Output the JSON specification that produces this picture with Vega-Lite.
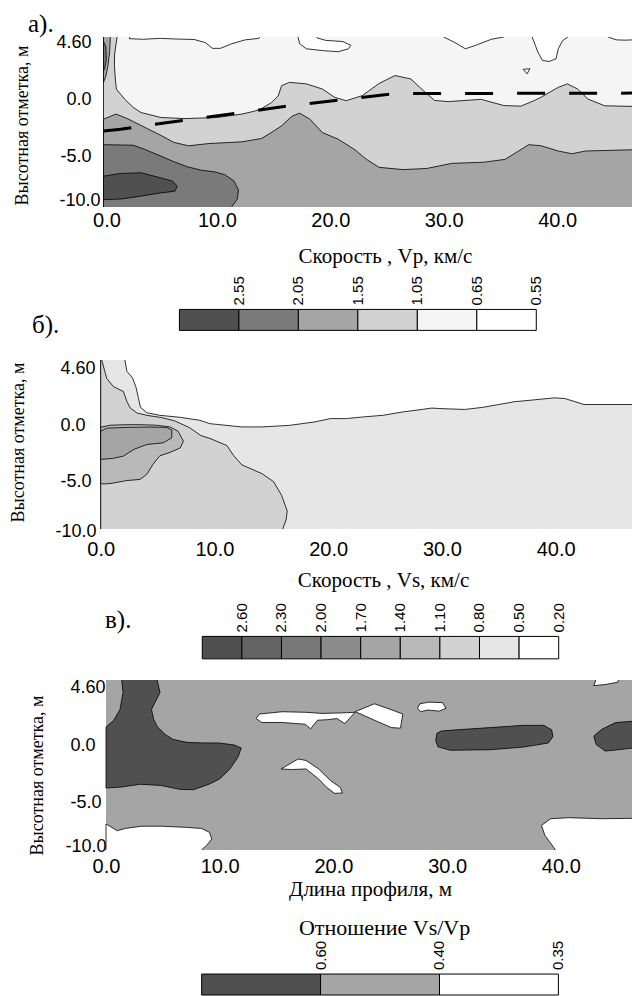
{
"$schema":"https://vega.github.io/schema/vega-lite/v6.json",
"background":"white",
"padding":{"left":8,"top":11,"right":0,"bottom":0},
"bounds":"flush",
"spacing":0,
"resolve":{"scale":{"fill":"independent"}},
"config":{
 "view":{"stroke":null},
 "axis":{"grid":false,"ticks":false,"domain":false,"labelFont":"Liberation Sans","labelColor":"#000","titleFont":"Liberation Serif","titleFontWeight":"normal","titleColor":"#000","labelFlush":false,"labelOverlap":false},
 "title":{"font":"Liberation Serif","fontWeight":"normal","fontSize":25,"color":"#000","anchor":"start","frame":"group","baseline":"alphabetic"}
},
"datasets":{
 "gridV":[{"x":10},{"x":20},{"x":30},{"x":40}],
 "gridH":[{"y":0},{"y":-5}],
 "edgeH":[{"y":5},{"y":-10}],
 "edgeL":[{"x":0}],
 "pa":[
  {"g":"a1","i":0,"x":0,"y":5.6},{"g":"a1","i":1,"x":1.2,"y":5.6},{"g":"a1","i":2,"x":1.2,"y":5.0},{"g":"a1","i":3,"x":0.98,"y":3.5},{"g":"a1","i":4,"x":0.96,"y":2.5},{"g":"a1","i":5,"x":1.05,"y":1.2},{"g":"a1","i":6,"x":1.14,"y":0.4},{"g":"a1","i":7,"x":1.85,"y":-0.47},{"g":"a1","i":8,"x":2.6,"y":-1.2},{"g":"a1","i":9,"x":3.3,"y":-1.66},{"g":"a1","i":10,"x":5.05,"y":-2.1},{"g":"a1","i":11,"x":7.2,"y":-2.2},{"g":"a1","i":12,"x":10.0,"y":-2.1},{"g":"a1","i":13,"x":12.2,"y":-1.8},{"g":"a1","i":14,"x":13.3,"y":-1.55},{"g":"a1","i":15,"x":13.95,"y":-1.3},{"g":"a1","i":16,"x":14.8,"y":-0.8},{"g":"a1","i":17,"x":15.4,"y":-0.2},{"g":"a1","i":18,"x":15.7,"y":0.7},{"g":"a1","i":19,"x":16.4,"y":1.0},{"g":"a1","i":20,"x":17.9,"y":0.86},{"g":"a1","i":21,"x":19.3,"y":0.41},{"g":"a1","i":22,"x":20.4,"y":-0.33},{"g":"a1","i":23,"x":21.4,"y":-0.62},{"g":"a1","i":24,"x":22.8,"y":-0.18},{"g":"a1","i":25,"x":24.3,"y":0.9},{"g":"a1","i":26,"x":25.7,"y":1.6},{"g":"a1","i":27,"x":27.1,"y":1.3},{"g":"a1","i":28,"x":28.2,"y":0.27},{"g":"a1","i":29,"x":29.2,"y":-0.6},{"g":"a1","i":30,"x":30.4,"y":-0.7},{"g":"a1","i":31,"x":33.3,"y":-0.5},{"g":"a1","i":32,"x":35.3,"y":-1.05},{"g":"a1","i":33,"x":36.8,"y":-1.1},{"g":"a1","i":34,"x":38.0,"y":-0.6},{"g":"a1","i":35,"x":38.6,"y":-0.3},{"g":"a1","i":36,"x":40.1,"y":0.56},{"g":"a1","i":37,"x":40.9,"y":0.86},{"g":"a1","i":38,"x":41.8,"y":0.42},{"g":"a1","i":39,"x":42.7,"y":-0.47},{"g":"a1","i":40,"x":44.2,"y":-1.07},{"g":"a1","i":41,"x":46.6,"y":-1.12},{"g":"a1","i":42,"x":51,"y":-1.12},{"g":"a1","i":43,"x":51,"y":-10.6},{"g":"a1","i":44,"x":0,"y":-10.6},
  {"g":"a2","i":0,"x":0,"y":-2.25},{"g":"a2","i":1,"x":1.1,"y":-1.8},{"g":"a2","i":2,"x":2.1,"y":-2.2},{"g":"a2","i":3,"x":3.6,"y":-2.95},{"g":"a2","i":4,"x":5.1,"y":-3.7},{"g":"a2","i":5,"x":6.2,"y":-4.3},{"g":"a2","i":6,"x":7.5,"y":-4.6},{"g":"a2","i":7,"x":9.3,"y":-4.4},{"g":"a2","i":8,"x":12.2,"y":-4.25},{"g":"a2","i":9,"x":13.95,"y":-3.95},{"g":"a2","i":10,"x":15.0,"y":-3.3},{"g":"a2","i":11,"x":15.7,"y":-2.84},{"g":"a2","i":12,"x":16.6,"y":-2.0},{"g":"a2","i":13,"x":17.3,"y":-1.72},{"g":"a2","i":14,"x":18.2,"y":-2.25},{"g":"a2","i":15,"x":19.3,"y":-3.43},{"g":"a2","i":16,"x":20.7,"y":-4.02},{"g":"a2","i":17,"x":22.1,"y":-4.9},{"g":"a2","i":18,"x":23.2,"y":-5.8},{"g":"a2","i":19,"x":24.3,"y":-6.5},{"g":"a2","i":20,"x":26.4,"y":-6.7},{"g":"a2","i":21,"x":28.5,"y":-6.6},{"g":"a2","i":22,"x":30.7,"y":-6.15},{"g":"a2","i":23,"x":33.5,"y":-6.05},{"g":"a2","i":24,"x":35.4,"y":-5.8},{"g":"a2","i":25,"x":36.6,"y":-5.06},{"g":"a2","i":26,"x":37.5,"y":-4.5},{"g":"a2","i":27,"x":38.6,"y":-4.6},{"g":"a2","i":28,"x":40.1,"y":-5.06},{"g":"a2","i":29,"x":41.3,"y":-5.3},{"g":"a2","i":30,"x":42.5,"y":-5.06},{"g":"a2","i":31,"x":46.6,"y":-4.95},{"g":"a2","i":32,"x":51,"y":-4.95},{"g":"a2","i":33,"x":51,"y":-10.6},{"g":"a2","i":34,"x":0,"y":-10.6},
  {"g":"a3","i":0,"x":0,"y":5.6},{"g":"a3","i":1,"x":0.6,"y":5.6},{"g":"a3","i":2,"x":0.6,"y":5.0},{"g":"a3","i":3,"x":0.55,"y":3.8},{"g":"a3","i":4,"x":0.4,"y":2.5},{"g":"a3","i":5,"x":0.2,"y":1.5},{"g":"a3","i":6,"x":0,"y":1.0},
  {"g":"a4","i":0,"x":0,"y":-4.5},{"g":"a4","i":1,"x":2.6,"y":-4.55},{"g":"a4","i":2,"x":3.6,"y":-4.9},{"g":"a4","i":3,"x":4.8,"y":-5.4},{"g":"a4","i":4,"x":6.2,"y":-6.0},{"g":"a4","i":5,"x":7.4,"y":-6.45},{"g":"a4","i":6,"x":8.6,"y":-6.75},{"g":"a4","i":7,"x":9.8,"y":-6.9},{"g":"a4","i":8,"x":10.7,"y":-7.15},{"g":"a4","i":9,"x":11.5,"y":-7.7},{"g":"a4","i":10,"x":11.9,"y":-8.5},{"g":"a4","i":11,"x":11.8,"y":-9.3},{"g":"a4","i":12,"x":11.3,"y":-10.0},{"g":"a4","i":13,"x":11.2,"y":-10.6},{"g":"a4","i":14,"x":0,"y":-10.6},
  {"g":"a5","i":0,"x":0,"y":4.6},{"g":"a5","i":1,"x":0.2,"y":4.2},{"g":"a5","i":2,"x":0.25,"y":3.0},{"g":"a5","i":3,"x":0.1,"y":2.2},{"g":"a5","i":4,"x":0,"y":2.0},
  {"g":"a6","i":0,"x":0,"y":-7.28},{"g":"a6","i":1,"x":1.5,"y":-7.04},{"g":"a6","i":2,"x":3.3,"y":-6.98},{"g":"a6","i":3,"x":5.05,"y":-7.43},{"g":"a6","i":4,"x":6.1,"y":-7.72},{"g":"a6","i":5,"x":6.5,"y":-8.17},{"g":"a6","i":6,"x":6.3,"y":-8.6},{"g":"a6","i":7,"x":5.05,"y":-8.76},{"g":"a6","i":8,"x":3.27,"y":-9.05},{"g":"a6","i":9,"x":1.5,"y":-9.3},{"g":"a6","i":10,"x":0,"y":-9.35},
  {"g":"a7","i":0,"x":2.3,"y":5.6},{"g":"a7","i":1,"x":2.3,"y":4.85},{"g":"a7","i":2,"x":3.5,"y":4.8},{"g":"a7","i":3,"x":5,"y":4.88},{"g":"a7","i":4,"x":6.5,"y":4.82},{"g":"a7","i":5,"x":8,"y":4.78},{"g":"a7","i":6,"x":9,"y":4.5},{"g":"a7","i":7,"x":9.6,"y":4.0},{"g":"a7","i":8,"x":10.3,"y":4.0},{"g":"a7","i":9,"x":11.3,"y":4.4},{"g":"a7","i":10,"x":12.5,"y":4.75},{"g":"a7","i":11,"x":13.7,"y":4.88},{"g":"a7","i":12,"x":14.2,"y":5.6},
  {"g":"a8","i":0,"x":17.15,"y":5.6},{"g":"a8","i":1,"x":17.15,"y":5.0},{"g":"a8","i":2,"x":17.3,"y":4.4},{"g":"a8","i":3,"x":17.9,"y":3.96},{"g":"a8","i":4,"x":19.3,"y":3.8},{"g":"a8","i":5,"x":20.7,"y":3.7},{"g":"a8","i":6,"x":21.6,"y":3.96},{"g":"a8","i":7,"x":21.8,"y":4.26},{"g":"a8","i":8,"x":21.1,"y":4.6},{"g":"a8","i":9,"x":19.6,"y":4.7},{"g":"a8","i":10,"x":18.9,"y":4.9},{"g":"a8","i":11,"x":18.75,"y":5.0},{"g":"a8","i":12,"x":18.75,"y":5.6},
  {"g":"a9","i":0,"x":30.0,"y":5.6},{"g":"a9","i":1,"x":30.0,"y":5.0},{"g":"a9","i":2,"x":31.0,"y":4.5},{"g":"a9","i":3,"x":31.9,"y":3.96},{"g":"a9","i":4,"x":32.8,"y":4.26},{"g":"a9","i":5,"x":34.2,"y":4.8},{"g":"a9","i":6,"x":35.3,"y":5.0},{"g":"a9","i":7,"x":35.3,"y":5.6},
  {"g":"a10","i":0,"x":37.8,"y":5.6},{"g":"a10","i":1,"x":37.8,"y":5.0},{"g":"a10","i":2,"x":38.3,"y":3.67},{"g":"a10","i":3,"x":38.7,"y":2.93},{"g":"a10","i":4,"x":39.3,"y":2.84},{"g":"a10","i":5,"x":39.9,"y":3.08},{"g":"a10","i":6,"x":40.1,"y":3.97},{"g":"a10","i":7,"x":40.5,"y":4.7},{"g":"a10","i":8,"x":40.95,"y":5.0},{"g":"a10","i":9,"x":40.95,"y":5.6},
  {"g":"a11","i":0,"x":44.5,"y":5.6},{"g":"a11","i":1,"x":44.5,"y":5.0},{"g":"a11","i":2,"x":45.2,"y":4.75},{"g":"a11","i":3,"x":46,"y":4.72},{"g":"a11","i":4,"x":46.7,"y":4.75},{"g":"a11","i":5,"x":51,"y":4.75},{"g":"a11","i":6,"x":51,"y":5.6},
  {"g":"a12","i":0,"x":37.0,"y":2.15},{"g":"a12","i":1,"x":37.6,"y":2.2},{"g":"a12","i":2,"x":37.35,"y":1.75}
 ],
 "pad":[{"x":0,"y":-3.3},{"x":1.5,"y":-3.14},{"x":4.5,"y":-2.7},{"x":7.5,"y":-2.3},{"x":12.2,"y":-1.66},{"x":16.4,"y":-1.07},{"x":21.1,"y":-0.53},{"x":25.7,"y":0.0},{"x":46.6,"y":0.05}],
 "pb":[
  {"g":"b1","i":0,"x":0,"y":5.6},{"g":"b1","i":1,"x":2.13,"y":5.6},{"g":"b1","i":2,"x":2.13,"y":5.0},{"g":"b1","i":3,"x":2.3,"y":4.0},{"g":"b1","i":4,"x":2.8,"y":3.4},{"g":"b1","i":5,"x":3.1,"y":2.6},{"g":"b1","i":6,"x":3.3,"y":1.7},{"g":"b1","i":7,"x":3.5,"y":0.8},{"g":"b1","i":8,"x":4.05,"y":0.32},{"g":"b1","i":9,"x":5.2,"y":0.09},{"g":"b1","i":10,"x":7.0,"y":-0.09},{"g":"b1","i":11,"x":8.7,"y":-0.35},{"g":"b1","i":12,"x":9.6,"y":-0.65},{"g":"b1","i":13,"x":12.4,"y":-0.94},{"g":"b1","i":14,"x":14.2,"y":-0.94},{"g":"b1","i":15,"x":16.6,"y":-0.8},{"g":"b1","i":16,"x":18.8,"y":-0.5},{"g":"b1","i":17,"x":20.2,"y":-0.2},{"g":"b1","i":18,"x":21.6,"y":-0.2},{"g":"b1","i":19,"x":23.0,"y":-0.06},{"g":"b1","i":20,"x":24.8,"y":0.09},{"g":"b1","i":21,"x":26.5,"y":0.38},{"g":"b1","i":22,"x":28.3,"y":0.62},{"g":"b1","i":23,"x":29.1,"y":0.73},{"g":"b1","i":24,"x":30.1,"y":0.68},{"g":"b1","i":25,"x":32.0,"y":0.61},{"g":"b1","i":26,"x":33.6,"y":0.8},{"g":"b1","i":27,"x":36.4,"y":1.3},{"g":"b1","i":28,"x":38.0,"y":1.45},{"g":"b1","i":29,"x":39.9,"y":1.64},{"g":"b1","i":30,"x":40.8,"y":1.58},{"g":"b1","i":31,"x":42.5,"y":1.05},{"g":"b1","i":32,"x":46.7,"y":1.05},{"g":"b1","i":33,"x":51,"y":1.05},{"g":"b1","i":34,"x":51,"y":-10.6},{"g":"b1","i":35,"x":0,"y":-10.6},
  {"g":"b2","i":0,"x":0,"y":5.6},{"g":"b2","i":1,"x":0.09,"y":5.6},{"g":"b2","i":2,"x":0.09,"y":5.0},{"g":"b2","i":3,"x":0.53,"y":3.38},{"g":"b2","i":4,"x":1.1,"y":2.65},{"g":"b2","i":5,"x":2.0,"y":2.2},{"g":"b2","i":6,"x":2.3,"y":1.32},{"g":"b2","i":7,"x":2.6,"y":0.74},{"g":"b2","i":8,"x":3.2,"y":0.29},{"g":"b2","i":9,"x":4.05,"y":0.09},{"g":"b2","i":10,"x":5.3,"y":-0.1},{"g":"b2","i":11,"x":6.5,"y":-0.4},{"g":"b2","i":12,"x":7.8,"y":-1.0},{"g":"b2","i":13,"x":8.8,"y":-1.7},{"g":"b2","i":14,"x":9.7,"y":-2.0},{"g":"b2","i":15,"x":11.1,"y":-2.6},{"g":"b2","i":16,"x":11.7,"y":-3.5},{"g":"b2","i":17,"x":12.4,"y":-4.3},{"g":"b2","i":18,"x":14.2,"y":-5.1},{"g":"b2","i":19,"x":15.2,"y":-5.8},{"g":"b2","i":20,"x":15.9,"y":-7.0},{"g":"b2","i":21,"x":16.4,"y":-8.4},{"g":"b2","i":22,"x":16.3,"y":-9.2},{"g":"b2","i":23,"x":16.0,"y":-10},{"g":"b2","i":24,"x":15.9,"y":-10.6},{"g":"b2","i":25,"x":0,"y":-10.6},
  {"g":"b3","i":0,"x":0,"y":-0.97},{"g":"b3","i":1,"x":0.82,"y":-0.79},{"g":"b3","i":2,"x":2.3,"y":-0.74},{"g":"b3","i":3,"x":3.46,"y":-0.74},{"g":"b3","i":4,"x":4.9,"y":-0.79},{"g":"b3","i":5,"x":6.1,"y":-0.94},{"g":"b3","i":6,"x":6.8,"y":-1.32},{"g":"b3","i":7,"x":7.27,"y":-2.2},{"g":"b3","i":8,"x":7.0,"y":-2.8},{"g":"b3","i":9,"x":6.1,"y":-3.2},{"g":"b3","i":10,"x":5.2,"y":-3.5},{"g":"b3","i":11,"x":4.6,"y":-4.26},{"g":"b3","i":12,"x":4.05,"y":-5.15},{"g":"b3","i":13,"x":3.46,"y":-5.6},{"g":"b3","i":14,"x":2.3,"y":-5.7},{"g":"b3","i":15,"x":0.82,"y":-5.97},{"g":"b3","i":16,"x":0.23,"y":-6.0},{"g":"b3","i":17,"x":0,"y":-5.97},
  {"g":"b4","i":0,"x":0,"y":-1.32},{"g":"b4","i":1,"x":0.53,"y":-1.05},{"g":"b4","i":2,"x":2.3,"y":-0.98},{"g":"b4","i":3,"x":4.3,"y":-0.95},{"g":"b4","i":4,"x":5.8,"y":-0.98},{"g":"b4","i":5,"x":6.25,"y":-1.2},{"g":"b4","i":6,"x":6.25,"y":-1.9},{"g":"b4","i":7,"x":5.5,"y":-2.35},{"g":"b4","i":8,"x":4.05,"y":-2.5},{"g":"b4","i":9,"x":2.9,"y":-2.94},{"g":"b4","i":10,"x":2.0,"y":-3.53},{"g":"b4","i":11,"x":1.1,"y":-3.73},{"g":"b4","i":12,"x":0,"y":-3.82}
 ],
 "pc":[
  {"g":"c1","i":0,"x":1.38,"y":5.6},{"g":"c1","i":1,"x":1.38,"y":5.0},{"g":"c1","i":2,"x":1.5,"y":3.9},{"g":"c1","i":3,"x":1.23,"y":2.4},{"g":"c1","i":4,"x":0.65,"y":1.4},{"g":"c1","i":5,"x":0,"y":0.85},{"g":"c1","i":6,"x":0,"y":-4.53},{"g":"c1","i":7,"x":1.3,"y":-4.45},{"g":"c1","i":8,"x":3.0,"y":-4.2},{"g":"c1","i":9,"x":4.8,"y":-4.3},{"g":"c1","i":10,"x":6.5,"y":-4.65},{"g":"c1","i":11,"x":7.7,"y":-4.68},{"g":"c1","i":12,"x":9.1,"y":-4.18},{"g":"c1","i":13,"x":10.0,"y":-3.73},{"g":"c1","i":14,"x":10.9,"y":-2.85},{"g":"c1","i":15,"x":11.6,"y":-1.82},{"g":"c1","i":16,"x":11.9,"y":-1.0},{"g":"c1","i":17,"x":11.3,"y":-0.74},{"g":"c1","i":18,"x":10.0,"y":-0.56},{"g":"c1","i":19,"x":8.5,"y":-0.55},{"g":"c1","i":20,"x":7.1,"y":-0.5},{"g":"c1","i":21,"x":5.9,"y":-0.24},{"g":"c1","i":22,"x":5.2,"y":0.2},{"g":"c1","i":23,"x":4.5,"y":0.9},{"g":"c1","i":24,"x":4.2,"y":1.5},{"g":"c1","i":25,"x":4.0,"y":2.4},{"g":"c1","i":26,"x":4.3,"y":3.0},{"g":"c1","i":27,"x":4.75,"y":3.9},{"g":"c1","i":28,"x":4.5,"y":5.0},{"g":"c1","i":29,"x":4.5,"y":5.6},
  {"g":"c2","i":0,"x":29.0,"y":-0.35},{"g":"c2","i":1,"x":29.1,"y":0.3},{"g":"c2","i":2,"x":29.5,"y":0.5},{"g":"c2","i":3,"x":30.8,"y":0.6},{"g":"c2","i":4,"x":33.8,"y":0.8},{"g":"c2","i":5,"x":36.7,"y":1.0},{"g":"c2","i":6,"x":38.5,"y":1.0},{"g":"c2","i":7,"x":39.2,"y":0.6},{"g":"c2","i":8,"x":39.3,"y":0.0},{"g":"c2","i":9,"x":38.9,"y":-0.56},{"g":"c2","i":10,"x":36.7,"y":-0.92},{"g":"c2","i":11,"x":33.8,"y":-1.15},{"g":"c2","i":12,"x":30.3,"y":-1.2},{"g":"c2","i":13,"x":29.2,"y":-0.9},
  {"g":"c3","i":0,"x":51,"y":1.38},{"g":"c3","i":1,"x":46.6,"y":1.38},{"g":"c3","i":2,"x":44.8,"y":1.24},{"g":"c3","i":3,"x":43.6,"y":0.65},{"g":"c3","i":4,"x":42.9,"y":0.06},{"g":"c3","i":5,"x":43.1,"y":-0.68},{"g":"c3","i":6,"x":43.9,"y":-1.27},{"g":"c3","i":7,"x":44.8,"y":-1.18},{"g":"c3","i":8,"x":46.6,"y":-0.97},{"g":"c3","i":9,"x":51,"y":-0.97},
  {"g":"c4","i":0,"x":0,"y":-7.7},{"g":"c4","i":1,"x":1.0,"y":-8.3},{"g":"c4","i":2,"x":1.7,"y":-8.1},{"g":"c4","i":3,"x":3.1,"y":-7.9},{"g":"c4","i":4,"x":4.9,"y":-7.9},{"g":"c4","i":5,"x":7.0,"y":-8.0},{"g":"c4","i":6,"x":8.4,"y":-8.1},{"g":"c4","i":7,"x":9.1,"y":-8.44},{"g":"c4","i":8,"x":9.3,"y":-9.03},{"g":"c4","i":9,"x":8.85,"y":-9.6},{"g":"c4","i":10,"x":8.4,"y":-10},{"g":"c4","i":11,"x":8.4,"y":-10.6},{"g":"c4","i":12,"x":0,"y":-10.6},
  {"g":"c5","i":0,"x":51,"y":-7.15},{"g":"c5","i":1,"x":43.6,"y":-7.24},{"g":"c5","i":2,"x":40.7,"y":-7.15},{"g":"c5","i":3,"x":39.1,"y":-7.24},{"g":"c5","i":4,"x":38.3,"y":-7.83},{"g":"c5","i":5,"x":38.6,"y":-8.71},{"g":"c5","i":6,"x":39.5,"y":-9.94},{"g":"c5","i":7,"x":39.5,"y":-10.6},{"g":"c5","i":8,"x":51,"y":-10.6},
  {"g":"c6","i":0,"x":13.2,"y":1.6},{"g":"c6","i":1,"x":13.5,"y":2.0},{"g":"c6","i":2,"x":15.5,"y":2.2},{"g":"c6","i":3,"x":17.6,"y":2.15},{"g":"c6","i":4,"x":19.0,"y":2.05},{"g":"c6","i":5,"x":20.8,"y":2.1},{"g":"c6","i":6,"x":21.9,"y":2.15},{"g":"c6","i":7,"x":21.5,"y":1.7},{"g":"c6","i":8,"x":21.0,"y":1.15},{"g":"c6","i":9,"x":20.3,"y":1.6},{"g":"c6","i":10,"x":19.5,"y":1.5},{"g":"c6","i":11,"x":18.6,"y":1.45},{"g":"c6","i":12,"x":18.0,"y":0.7},{"g":"c6","i":13,"x":17.5,"y":1.1},{"g":"c6","i":14,"x":15.5,"y":1.25},{"g":"c6","i":15,"x":13.7,"y":1.25},
  {"g":"c7","i":0,"x":21.9,"y":2.2},{"g":"c7","i":1,"x":23.6,"y":2.9},{"g":"c7","i":2,"x":24.9,"y":2.45},{"g":"c7","i":3,"x":26.1,"y":2.0},{"g":"c7","i":4,"x":25.9,"y":0.75},{"g":"c7","i":5,"x":25.1,"y":0.8},{"g":"c7","i":6,"x":23.5,"y":1.5},{"g":"c7","i":7,"x":22.4,"y":2.0},
  {"g":"c8","i":0,"x":27.4,"y":2.5},{"g":"c8","i":1,"x":27.6,"y":2.9},{"g":"c8","i":2,"x":28.4,"y":3.05},{"g":"c8","i":3,"x":29.6,"y":3.0},{"g":"c8","i":4,"x":29.9,"y":2.5},{"g":"c8","i":5,"x":29.3,"y":2.25},{"g":"c8","i":6,"x":28.3,"y":2.35},{"g":"c8","i":7,"x":27.7,"y":2.2},
  {"g":"c9","i":0,"x":15.4,"y":-2.85},{"g":"c9","i":1,"x":16.9,"y":-1.97},{"g":"c9","i":2,"x":17.6,"y":-2.1},{"g":"c9","i":3,"x":18.7,"y":-2.85},{"g":"c9","i":4,"x":19.75,"y":-3.88},{"g":"c9","i":5,"x":20.6,"y":-4.47},{"g":"c9","i":6,"x":20.8,"y":-4.97},{"g":"c9","i":7,"x":20.1,"y":-5.0},{"g":"c9","i":8,"x":19.4,"y":-4.47},{"g":"c9","i":9,"x":18.7,"y":-3.73},{"g":"c9","i":10,"x":17.6,"y":-2.85},{"g":"c9","i":11,"x":16.3,"y":-2.9},
  {"g":"c10","i":0,"x":42.9,"y":4.5},{"g":"c10","i":1,"x":43.3,"y":5.6},{"g":"c10","i":2,"x":45.3,"y":5.6},{"g":"c10","i":3,"x":45.0,"y":4.8},{"g":"c10","i":4,"x":43.9,"y":4.6}
 ],
 "leg_a":[{"lo":0,"hi":1,"k":"k1","lab":"2.55"},{"lo":1,"hi":2,"k":"k2","lab":"2.05"},{"lo":2,"hi":3,"k":"k3","lab":"1.55"},{"lo":3,"hi":4,"k":"k4","lab":"1.05"},{"lo":4,"hi":5,"k":"k5","lab":"0.65"},{"lo":5,"hi":6,"k":"k6","lab":"0.55"}],
 "leg_b":[{"lo":0,"hi":1,"k":"k1","lab":"2.60"},{"lo":1,"hi":2,"k":"k2","lab":"2.30"},{"lo":2,"hi":3,"k":"k3","lab":"2.00"},{"lo":3,"hi":4,"k":"k4","lab":"1.70"},{"lo":4,"hi":5,"k":"k5","lab":"1.40"},{"lo":5,"hi":6,"k":"k6","lab":"1.10"},{"lo":6,"hi":7,"k":"k7","lab":"0.80"},{"lo":7,"hi":8,"k":"k8","lab":"0.50"},{"lo":8,"hi":9,"k":"k9","lab":"0.20"}],
 "leg_c":[{"lo":0,"hi":1,"k":"k1","lab":"0.60"},{"lo":1,"hi":2,"k":"k2","lab":"0.40"},{"lo":2,"hi":3,"k":"k3","lab":"0.35"}]
},
"vconcat":[
 {
  "width":532,"height":170,
  "title":{"text":"а).","dx":-72,"offset":-3},
  "encoding":{
   "x":{"field":"x","type":"quantitative","scale":{"domain":[-0.309,46.6],"nice":false,"zero":false},"axis":{"values":[0,10,20,30,40],"format":".1f","labelFontSize":20,"labelPadding":3,"labelOffset":{"condition":{"test":"datum.value == 0","value":3},"value":0},"title":"Скорость , Vp, км/с","titleFont":"Liberation Serif","titleFontWeight":"normal","titleFontSize":21,"titleX":285,"titleY":49,"titleBaseline":"middle"}},
   "y":{"field":"y","type":"quantitative","scale":{"domain":[-10,5],"nice":false,"zero":false},"axis":{"values":[4.6,0,-5,-10],"labelExpr":"datum.value == 4.6 ? '4.60' : datum.value == 0 ? '0.0' : datum.value == -5 ? '-5.0' : '-10.0'","labelFontSize":18,"labelPadding":{"condition":{"test":"datum.value == -10","value":0},"value":9},"labelOffset":{"condition":[{"test":"datum.value == 4.6","value":1},{"test":"datum.value == -10","value":-7}],"value":6},"title":"Высотная отметка, м","titleFont":"Liberation Serif","titleFontWeight":"normal","titleFontSize":18,"titleX":-78,"titleY":88,"titleBaseline":"middle"}}
  },
  "layer":[
   {"data":{"values":[{"x":0,"y":-10}]},"mark":{"type":"rect","fill":"#f5f5f5","clip":true},"encoding":{"x2":{"datum":46.6},"y2":{"datum":5}}},
   {"data":{"name":"pa"},"transform":[{"filter":{"field":"g","oneOf":["a1"]}}],"mark":{"type":"line","interpolate":"linear-closed","fill":"#d2d2d2","stroke":"#000","strokeWidth":0.8,"clip":true},"encoding":{"order":{"field":"i","type":"quantitative"},"detail":{"field":"g","type":"nominal"}}},
   {"data":{"name":"pa"},"transform":[{"filter":{"field":"g","oneOf":["a2","a3"]}}],"mark":{"type":"line","interpolate":"linear-closed","fill":"#a5a5a5","stroke":"#000","strokeWidth":0.8,"clip":true},"encoding":{"order":{"field":"i","type":"quantitative"},"detail":{"field":"g","type":"nominal"}}},
   {"data":{"name":"pa"},"transform":[{"filter":{"field":"g","oneOf":["a4","a5"]}}],"mark":{"type":"line","interpolate":"linear-closed","fill":"#7a7a7a","stroke":"#000","strokeWidth":0.8,"clip":true},"encoding":{"order":{"field":"i","type":"quantitative"},"detail":{"field":"g","type":"nominal"}}},
   {"data":{"name":"pa"},"transform":[{"filter":{"field":"g","oneOf":["a6"]}}],"mark":{"type":"line","interpolate":"linear-closed","fill":"#505050","stroke":"#000","strokeWidth":0.8,"clip":true},"encoding":{"order":{"field":"i","type":"quantitative"},"detail":{"field":"g","type":"nominal"}}},
   {"data":{"name":"pa"},"transform":[{"filter":{"field":"g","oneOf":["a7","a8","a9","a10","a11","a12"]}}],"mark":{"type":"line","interpolate":"linear-closed","fill":"#ffffff","stroke":"#000","strokeWidth":0.8,"clip":true},"encoding":{"order":{"field":"i","type":"quantitative"},"detail":{"field":"g","type":"nominal"}}},
   {"data":{"name":"gridV"},"mark":{"type":"rule","stroke":"#222","strokeWidth":1,"strokeDash":[26,27],"strokeDashOffset":8,"clip":true},"encoding":{"y":{"datum":5},"y2":{"datum":-10}}},
   {"data":{"name":"gridH"},"mark":{"type":"rule","stroke":"#444","strokeWidth":1,"strokeDash":[26,27],"clip":true},"encoding":{"x":{"datum":0},"x2":{"datum":46.6}}},
   {"data":{"name":"pad"},"mark":{"type":"line","stroke":"#000","strokeWidth":3,"strokeDash":[28,24],"clip":true},"encoding":{}},
   {"data":{"name":"edgeH"},"mark":{"type":"rule","stroke":"#555","strokeWidth":2,"strokeDash":[14,6],"clip":true},"encoding":{"x":{"datum":0},"x2":{"datum":46.6}}},
   {"data":{"name":"edgeL"},"mark":{"type":"rule","stroke":"#000","strokeWidth":1.5},"encoding":{"y":{"datum":5},"y2":{"datum":-10}}}
  ]
 },
 {
  "width":532,"height":153,
  "data":{"name":"leg_a"},
  "encoding":{"x":{"field":"lo","type":"quantitative","scale":{"domain":[-1.335,7.609],"nice":false,"zero":false},"axis":null}},
  "layer":[
   {"mark":{"type":"rect","stroke":"#000","strokeWidth":1},"encoding":{"x2":{"field":"hi"},"y":{"datum":0,"type":"quantitative","scale":{"domain":[-1.414,5.89],"nice":false,"zero":false},"axis":null},"y2":{"datum":1},"fill":{"field":"k","type":"nominal","scale":{"domain":["k1","k2","k3","k4","k5","k6"],"range":["#505050","#7a7a7a","#a5a5a5","#d2d2d2","#f5f5f5","#ffffff"]},"legend":null}}},
   {"mark":{"type":"text","angle":270,"align":"left","baseline":"middle","dx":4,"font":"Liberation Sans","fontSize":15,"color":"#000"},"encoding":{"x":{"field":"hi","type":"quantitative"},"y":{"datum":1,"type":"quantitative"},"text":{"field":"lab"}}}
  ]
 },
 {
  "width":532,"height":169,
  "title":{"text":"б).","dx":-68,"offset":22},
  "encoding":{
   "x":{"field":"x","type":"quantitative","scale":{"domain":[-0.0615,46.71],"nice":false,"zero":false},"axis":{"values":[0,10,20,30,40],"format":".1f","labelFontSize":20,"labelPadding":10,"title":"Скорость , Vs, км/с","titleFont":"Liberation Serif","titleFontWeight":"normal","titleFontSize":21,"titleX":283,"titleY":51,"titleBaseline":"middle"}},
   "y":{"field":"y","type":"quantitative","scale":{"domain":[-10,5],"nice":false,"zero":false},"axis":{"values":[4.6,0,-5,-10],"labelExpr":"datum.value == 4.6 ? '4.60' : datum.value == 0 ? '0.0' : datum.value == -5 ? '-5.0' : '-10.0'","labelFontSize":18,"labelAlign":"left","labelPadding":{"condition":{"test":"datum.value == -10","value":45},"value":40},"labelOffset":{"condition":[{"test":"datum.value == 4.6","value":4},{"test":"datum.value == -10","value":2}],"value":9},"title":"Высотная отметка, м","titleFont":"Liberation Serif","titleFontWeight":"normal","titleFontSize":18,"titleX":-82,"titleY":82,"titleBaseline":"middle"}}
  },
  "layer":[
   {"data":{"values":[{"x":0,"y":-10}]},"mark":{"type":"rect","fill":"#ffffff","clip":true},"encoding":{"x2":{"datum":46.71},"y2":{"datum":5}}},
   {"data":{"name":"pb"},"transform":[{"filter":{"field":"g","oneOf":["b1"]}}],"mark":{"type":"line","interpolate":"linear-closed","fill":"#e6e6e6","stroke":"#000","strokeWidth":0.8,"clip":true},"encoding":{"order":{"field":"i","type":"quantitative"},"detail":{"field":"g","type":"nominal"}}},
   {"data":{"name":"pb"},"transform":[{"filter":{"field":"g","oneOf":["b2"]}}],"mark":{"type":"line","interpolate":"linear-closed","fill":"#d2d2d2","stroke":"#000","strokeWidth":0.8,"clip":true},"encoding":{"order":{"field":"i","type":"quantitative"},"detail":{"field":"g","type":"nominal"}}},
   {"data":{"name":"pb"},"transform":[{"filter":{"field":"g","oneOf":["b3"]}}],"mark":{"type":"line","interpolate":"linear-closed","fill":"#b9b9b9","stroke":"#000","strokeWidth":0.8,"clip":true},"encoding":{"order":{"field":"i","type":"quantitative"},"detail":{"field":"g","type":"nominal"}}},
   {"data":{"name":"pb"},"transform":[{"filter":{"field":"g","oneOf":["b4"]}}],"mark":{"type":"line","interpolate":"linear-closed","fill":"#a5a5a5","stroke":"#000","strokeWidth":0.8,"clip":true},"encoding":{"order":{"field":"i","type":"quantitative"},"detail":{"field":"g","type":"nominal"}}},
   {"data":{"name":"gridV"},"mark":{"type":"rule","stroke":"#222","strokeWidth":1,"strokeDash":[26,27],"strokeDashOffset":8,"clip":true},"encoding":{"y":{"datum":5},"y2":{"datum":-10}}},
   {"data":{"name":"gridH"},"mark":{"type":"rule","stroke":"#444","strokeWidth":1,"strokeDash":[26,27],"clip":true},"encoding":{"x":{"datum":0},"x2":{"datum":46.71}}},
   {"data":{"name":"edgeH"},"mark":{"type":"rule","stroke":"#000","strokeWidth":1.5,"clip":true},"encoding":{"x":{"datum":0},"x2":{"datum":46.71}}},
   {"data":{"name":"edgeL"},"mark":{"type":"rule","stroke":"#000","strokeWidth":1.5},"encoding":{"y":{"datum":5},"y2":{"datum":-10}}}
  ]
 },
 {
  "width":532,"height":151,
  "data":{"name":"leg_b"},
  "encoding":{"x":{"field":"lo","type":"quantitative","scale":{"domain":[-2.583,10.851],"nice":false,"zero":false},"axis":null}},
  "layer":[
   {"mark":{"type":"rect","stroke":"#000","strokeWidth":1},"encoding":{"x2":{"field":"hi"},"y":{"datum":0,"type":"quantitative","scale":{"domain":[-0.942,5.785],"nice":false,"zero":false},"axis":null},"y2":{"datum":1},"fill":{"field":"k","type":"nominal","scale":{"domain":["k1","k2","k3","k4","k5","k6","k7","k8","k9"],"range":["#505050","#646464","#787878","#8c8c8c","#a5a5a5","#b9b9b9","#d2d2d2","#e6e6e6","#ffffff"]},"legend":null}}},
   {"mark":{"type":"text","angle":270,"align":"left","baseline":"middle","dx":4,"font":"Liberation Sans","fontSize":15,"color":"#000"},"encoding":{"x":{"field":"hi","type":"quantitative"},"y":{"datum":1,"type":"quantitative"},"text":{"field":"lab"}}}
  ]
 },
 {
  "width":532,"height":170,
  "title":{"text":"в).","dx":5,"offset":46},
  "encoding":{
   "x":{"field":"x","type":"quantitative","scale":{"domain":[-0.528,46.26],"nice":false,"zero":false},"axis":{"values":[0,10,20,30,40],"format":".1f","labelFontSize":20,"labelPadding":6,"title":"Длина профиля, м","titleFont":"Liberation Serif","titleFontWeight":"normal","titleFontSize":21,"titleX":270,"titleY":39,"titleBaseline":"middle"}},
   "y":{"field":"y","type":"quantitative","scale":{"domain":[-10,5],"nice":false,"zero":false},"axis":{"values":[4.6,0,-5,-10],"labelExpr":"datum.value == 4.6 ? '4.60' : datum.value == 0 ? '0.0' : datum.value == -5 ? '-5.0' : '-10.0'","labelFontSize":18,"labelAlign":"left","labelPadding":{"condition":{"test":"datum.value == -10","value":35},"value":30},"labelOffset":{"condition":[{"test":"datum.value == 4.6","value":3},{"test":"datum.value == -10","value":-4}],"value":9},"title":"Высотная отметка, м","titleFont":"Liberation Serif","titleFontWeight":"normal","titleFontSize":18,"titleX":-63,"titleY":95,"titleBaseline":"middle"}}
  },
  "layer":[
   {"data":{"values":[{"x":0,"y":-10}]},"mark":{"type":"rect","fill":"#a5a5a5","clip":true},"encoding":{"x2":{"datum":46.26},"y2":{"datum":5}}},
   {"data":{"name":"pc"},"transform":[{"filter":{"field":"g","oneOf":["c1","c2","c3"]}}],"mark":{"type":"line","interpolate":"linear-closed","fill":"#505050","stroke":"#000","strokeWidth":0.8,"clip":true},"encoding":{"order":{"field":"i","type":"quantitative"},"detail":{"field":"g","type":"nominal"}}},
   {"data":{"name":"pc"},"transform":[{"filter":{"field":"g","oneOf":["c4","c5","c6","c7","c8","c9","c10"]}}],"mark":{"type":"line","interpolate":"linear-closed","fill":"#ffffff","stroke":"#000","strokeWidth":0.8,"clip":true},"encoding":{"order":{"field":"i","type":"quantitative"},"detail":{"field":"g","type":"nominal"}}},
   {"data":{"name":"gridV"},"mark":{"type":"rule","stroke":"#222","strokeWidth":1,"strokeDash":[26,27],"strokeDashOffset":8,"clip":true},"encoding":{"y":{"datum":5},"y2":{"datum":-10}}},
   {"data":{"name":"gridH"},"mark":{"type":"rule","stroke":"#222","strokeWidth":1,"strokeDash":[26,27],"clip":true},"encoding":{"x":{"datum":0},"x2":{"datum":46.26}}},
   {"data":{"name":"edgeH"},"mark":{"type":"rule","stroke":"#333","strokeWidth":2,"strokeDash":[14,6],"clip":true},"encoding":{"x":{"datum":0},"x2":{"datum":46.26}}},
   {"data":{"name":"edgeL"},"mark":{"type":"rule","stroke":"#000","strokeWidth":1.5},"encoding":{"y":{"datum":5},"y2":{"datum":-10}}}
  ]
 },
 {
  "width":532,"height":145,
  "data":{"name":"leg_c"},
  "encoding":{"x":{"field":"lo","type":"quantitative","scale":{"domain":[-0.855,3.619],"nice":false,"zero":false},"axis":null}},
  "layer":[
   {"mark":{"type":"rect","stroke":"#000","strokeWidth":1},"encoding":{"x2":{"field":"hi"},"y":{"datum":0,"type":"quantitative","scale":{"domain":[0,6.919],"nice":false,"zero":false},"axis":null},"y2":{"datum":1},"fill":{"field":"k","type":"nominal","scale":{"domain":["k1","k2","k3"],"range":["#505050","#a5a5a5","#ffffff"]},"legend":null}}},
   {"mark":{"type":"text","angle":270,"align":"left","baseline":"middle","dx":4,"font":"Liberation Sans","fontSize":15,"color":"#000"},"encoding":{"x":{"field":"hi","type":"quantitative"},"y":{"datum":1,"type":"quantitative"},"text":{"field":"lab"}}},
   {"transform":[{"filter":{"field":"k","equal":"k2"}}],"mark":{"type":"text","align":"center","baseline":"middle","dx":64,"font":"Liberation Serif","fontSize":22,"color":"#000"},"encoding":{"x":{"field":"lo","type":"quantitative"},"y":{"datum":3.19,"type":"quantitative"},"text":{"value":"Отношение Vs/Vp"}}}
  ]
 }
]
}
